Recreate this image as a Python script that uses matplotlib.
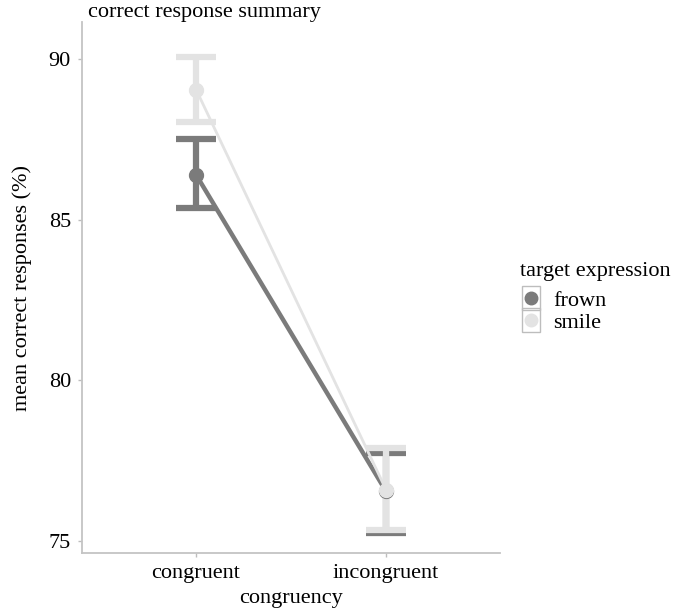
import matplotlib
matplotlib.use('Agg')
import matplotlib.pyplot as plt
from matplotlib.legend_handler import HandlerBase
from matplotlib.patches import Rectangle
from matplotlib.lines import Line2D

plt.rcParams['font.family'] = ['Liberation Serif', 'DejaVu Serif']

# data
categories = ['congruent', 'incongruent']
frown_mean = [86.4, 76.55]
frown_lo = [85.35, 75.25]
frown_hi = [87.5, 77.75]
smile_mean = [89.05, 76.6]
smile_lo = [88.05, 75.35]
smile_hi = [90.05, 77.9]
yticks = [75, 80, 85, 90]

series = [('frown', frown_mean, frown_lo, frown_hi, '#7b7b7b', 3.2),
          ('smile', smile_mean, smile_lo, smile_hi, '#e3e3e3', 2.0)]


# legend key: grey box with a point inside
class BoxedPoint(HandlerBase):
    def create_artists(self, legend, orig, xd, yd, w, h, fontsize, trans):
        box = Rectangle((xd + w / 2 - h / 2 - 1, yd - 3), h + 2, h + 6, fill=False,
                        edgecolor='#bdbdbd', lw=1.0, transform=trans)
        pt = Line2D([xd + w / 2], [yd + h / 2], marker='o', markersize=9,
                    color=orig.get_color(), ls='none', transform=trans)
        return [box, pt]


fig = plt.figure(figsize=(6.84, 6.15), dpi=100)
ax = fig.add_axes([0.12, 0.1008, 0.611, 0.8634])

x = list(range(1, len(categories) + 1))
handles = []
for name, m, lo, hi, col, lw in series:
    ax.plot(x, m, color=col, lw=lw, zorder=2)
    ax.vlines(x, lo, hi, color=col, lw=4.5, zorder=2)
    ax.hlines(lo, [i - 0.105 for i in x], [i + 0.105 for i in x], color=col, lw=4.5, zorder=2)
    ax.hlines(hi, [i - 0.105 for i in x], [i + 0.105 for i in x], color=col, lw=4.5, zorder=2)
    ax.plot(x, m, 'o', color=col, ms=10, zorder=3)
    handles.append(Line2D([], [], color=col, marker='o', ls='none', label=name))

ax.set_xlim(0.4, 2.6)
ax.set_ylim(74.63, 91.15)
ax.set_xticks(x)
ax.set_xticklabels(categories)
ax.set_yticks(yticks)
ax.tick_params(labelsize=16, length=3, color='#bdbdbd', width=1, pad=5, labelcolor='black')
for s in ['top', 'right']:
    ax.spines[s].set_visible(False)
for s in ['left', 'bottom']:
    ax.spines[s].set_color('#c4c4c4')
    ax.spines[s].set_linewidth(1.3)

ax.set_xlabel('congruency', fontsize=16, labelpad=4)
ax.set_ylabel('mean correct responses (%)', fontsize=16, labelpad=12)
ax.set_title('correct response summary', fontsize=16, loc='left', x=0.015, pad=2)

leg = ax.legend(handles=handles, title='target expression', loc='center left',
                bbox_to_anchor=(1.0, 0.482), frameon=False, fontsize=16,
                title_fontsize=16, handler_map={Line2D: BoxedPoint()},
                handlelength=1.0, handletextpad=0.5, labelspacing=0.05)
leg._legend_box.align = 'left'
leg._legend_box.sep = 7

fig.savefig('out.png', dpi=100)
